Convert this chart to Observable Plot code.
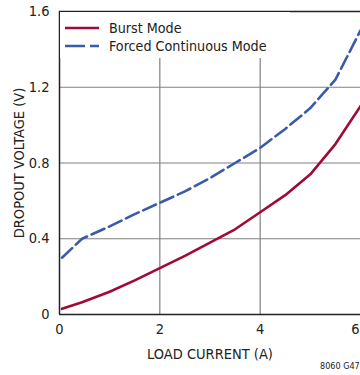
<!DOCTYPE html>
<html><head><meta charset="utf-8">
<script src="https://cdn.jsdelivr.net/npm/d3@7"></script>
<script src="https://cdn.jsdelivr.net/npm/@observablehq/plot@0.6"></script>
<style>
body{margin:0;background:#fff;overflow:hidden;}
#wrap{position:relative;width:360px;height:375px;overflow:hidden;font-family:"DejaVu Sans Condensed","DejaVu Sans",sans-serif;color:#222;}
#legend{position:absolute;left:60px;top:12px;width:230px;height:46px;background:#fff;}
#note{position:absolute;left:320px;top:361px;font-size:9px;white-space:nowrap;color:#222;}
</style></head><body><div id="wrap"></div>
<script>
const current = [0.05, 0.45, 1, 1.5, 2, 2.5, 3, 3.5, 4, 4.5, 5, 5.5, 6];
const burst   = [0.03, 0.065, 0.12, 0.18, 0.245, 0.31, 0.38, 0.45, 0.54, 0.63, 0.74, 0.9, 1.1];
const forced  = [0.30, 0.40, 0.465, 0.53, 0.59, 0.65, 0.72, 0.80, 0.88, 0.98, 1.09, 1.24, 1.5];
const xTicks = [0, 2, 4];
const xEdgeTick = [6];
const yTicks = [0, 0.4, 0.8, 1.2, 1.6];
const xGrid = [2, 4];
const yGrid = [0.4, 0.8, 1.2];
const seriesNames = ["Burst Mode", "Forced Continuous Mode"];
const seriesColors = ["#a00b35", "#3a5aac"];
const xLabel = "LOAD CURRENT (A)";
const yLabel = "DROPOUT VOLTAGE (V)";
const note = "8060 G47";
const FONT = '"DejaVu Sans Condensed","DejaVu Sans",sans-serif';

const burstData = current.map((c, i) => ({x: c, y: burst[i]}));
const forcedData = current.map((c, i) => ({x: c, y: forced[i]}));

const chart = Plot.plot({
  width: 360, height: 375,
  marginLeft: 59, marginRight: 0, marginTop: 11, marginBottom: 61,
  style: {fontFamily: FONT, fontSize: "14.5px", background: "white", color: "#222", overflow: "visible"},
  x: {domain: [0, 6]},
  y: {domain: [0, 1.6]},
  marks: [
    Plot.gridX(xGrid, {stroke: "#808080", strokeOpacity: 1, strokeWidth: 1.2}),
    Plot.gridY(yGrid, {stroke: "#808080", strokeOpacity: 1, strokeWidth: 1.2}),
    Plot.axisX(xTicks, {tickSize: 0, tickPadding: 9, fontSize: 14.5, label: xLabel, labelAnchor: "center", labelOffset: 44, labelArrow: "none"}),
    Plot.axisX(xEdgeTick, {tickSize: 0, tickPadding: 9, fontSize: 14.5, dx: -5, label: null}),
    Plot.axisY(yTicks, {tickSize: 0, tickPadding: 10, fontSize: 14.5, tickFormat: d => d === 0 ? "0" : d.toFixed(1), label: yLabel, labelAnchor: "center", labelOffset: 46, labelArrow: "none"}),
    Plot.ruleX([0], {stroke: "#222", strokeWidth: 1.5}),
    Plot.ruleY([0, 1.6], {stroke: "#222", strokeWidth: 1.5}),
    Plot.line(burstData, {x: "x", y: "y", stroke: seriesColors[0], strokeWidth: 2.6, curve: "linear"}),
    Plot.line(forcedData, {x: "x", y: "y", stroke: seriesColors[1], strokeWidth: 2.6, strokeDasharray: "14,5", curve: "linear"})
  ]
});
const wrap = document.getElementById("wrap");
wrap.appendChild(chart);

const leg = document.createElement("div");
leg.id = "legend";
const ns = "http://www.w3.org/2000/svg";
const ls = document.createElementNS(ns, "svg");
ls.setAttribute("width", 230); ls.setAttribute("height", 46);
seriesNames.forEach((name, i) => {
  const yy = 16 + i * 18;
  const l = document.createElementNS(ns, "line");
  l.setAttribute("x1", 5); l.setAttribute("x2", 39);
  l.setAttribute("y1", yy); l.setAttribute("y2", yy);
  l.setAttribute("stroke", seriesColors[i]); l.setAttribute("stroke-width", 2.6);
  if (i === 1) l.setAttribute("stroke-dasharray", "20,5");
  ls.appendChild(l);
  const t = document.createElementNS(ns, "text");
  t.setAttribute("x", 49); t.setAttribute("y", yy); t.setAttribute("dy", "0.35em");
  t.setAttribute("font-size", 14.2); t.setAttribute("fill", "#222");
  t.setAttribute("font-family", FONT);
  t.textContent = name;
  ls.appendChild(t);
});
leg.appendChild(ls);
wrap.appendChild(leg);

const n = document.createElement("div");
n.id = "note"; n.textContent = note;
wrap.appendChild(n);
</script>
</body></html>
